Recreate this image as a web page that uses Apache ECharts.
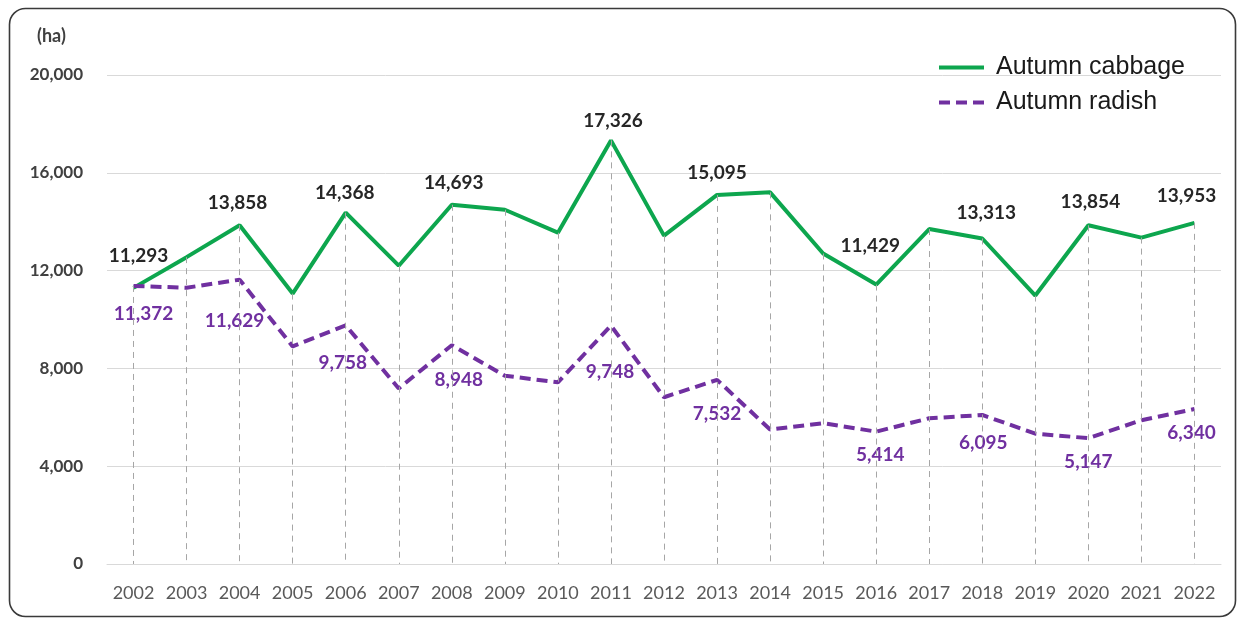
<!DOCTYPE html>
<html>
<head>
<meta charset="utf-8">
<style>
  html, body { margin: 0; padding: 0; background: #ffffff; }
  #chart { width: 1240px; height: 618px; }
</style>
<script src="https://cdn.jsdelivr.net/npm/echarts@6/dist/echarts.min.js"></script>
</head>
<body>
<div id="chart"></div>
<script>
// ---- Data ----
const years = ['2002','2003','2004','2005','2006','2007','2008','2009','2010','2011','2012',
               '2013','2014','2015','2016','2017','2018','2019','2020','2021','2022'];
const cabbage = [11293, 12550, 13858, 11060, 14368, 12200, 14693, 14490, 13550, 17326, 13430,
                 15095, 15200, 12700, 11429, 13700, 13313, 10980, 13854, 13350, 13953];
const radish  = [11372, 11300, 11629, 8900, 9758, 7180, 8948, 7700, 7430, 9748, 6820,
                 7532, 5500, 5760, 5414, 5960, 6095, 5330, 5147, 5880, 6340];
const labeledYears = ['2002','2004','2006','2008','2011','2013','2016','2018','2020','2022'];
const seriesNames = ['Autumn cabbage', 'Autumn radish'];
const yMin = 0, yMax = 20000, yStep = 4000;
const unitLabel = '(ha)';

// ---- Label placement (styling, kept apart from data) ----
const cabbageOffsets = {
  '2002': [5, -32], '2004': [-2, -22], '2006': [-1, -20], '2008': [2, -22], '2011': [2, -20],
  '2013': [0, -22], '2016': [-6, -39], '2018': [4, -26], '2020': [2, -23], '2022': [-8, -27]
};
const radishOffsets = {
  '2002': [10, 28], '2004': [-5, 41], '2006': [-3, 37], '2008': [7, 35], '2011': [-1, 46],
  '2013': [0, 34], '2016': [4, 23], '2018': [1, 28], '2020': [0, 24], '2022': [-3, 24]
};

const fmt = v => Number(v).toLocaleString('en-US');
const GREEN = '#0DA64E';
const PURPLE = '#7030A0';
const FONT = 'Lato, "Open Sans", sans-serif';

function buildData(values, offsets, color) {
  return values.map((v, i) => {
    const y = years[i];
    if (labeledYears.indexOf(y) >= 0) {
      return {
        value: v,
        label: {
          show: true, position: 'inside', offset: offsets[y],
          formatter: p => fmt(p.value),
          color: color, fontFamily: FONT, fontWeight: 'bold', fontSize: 19
        }
      };
    }
    return v;
  });
}

const dropLines = years.map((y, i) => [
  { coord: [y, Math.max(cabbage[i], radish[i])] },
  { coord: [y, 0] }
]);

const chart = echarts.init(document.getElementById('chart'));
chart.setOption({
  animation: false,
  backgroundColor: '#ffffff',
  grid: { left: 107, right: 19, top: 75, bottom: 54 },
  legend: {
    orient: 'vertical',
    left: 934, top: 50,
    itemWidth: 45, itemHeight: 4, itemGap: 10,
    textStyle: { fontFamily: '"Liberation Sans", Arial, sans-serif', fontSize: 25, color: '#1a1a1a', padding: [0, 0, 0, 7] },
    data: [
      { name: seriesNames[0], icon: 'rect' },
      { name: seriesNames[1], icon: 'path://M0,0h11v4h-11zM17,0h11v4h-11zM34,0h11v4h-11z' }
    ]
  },
  xAxis: {
    type: 'category',
    data: years,
    boundaryGap: true,
    axisTick: { show: false },
    axisLine: { show: true, lineStyle: { color: '#d9d9d9', width: 1 } },
    axisLabel: { margin: 20, fontFamily: FONT, fontSize: 18, color: '#595959', interval: 0 },
    splitLine: { show: false }
  },
  yAxis: {
    type: 'value',
    min: yMin, max: yMax, interval: yStep,
    axisLine: { show: false },
    axisTick: { show: false },
    axisLabel: { margin: 24, fontFamily: FONT, fontSize: 17, fontWeight: 'bold', color: '#404040',
                 formatter: v => fmt(v) },
    splitLine: { show: true, lineStyle: { color: '#d9d9d9', width: 1 } }
  },
  graphic: [
    { type: 'rect', left: 7, top: 6, z: 100, silent: true,
      shape: { width: 1226, height: 608, r: 16 },
      style: { fill: 'none', stroke: '#3a3a3a', lineWidth: 1.6 } },
    { type: 'text', left: 37, top: 27, silent: true,
      style: { text: unitLabel, font: 'bold 18px ' + FONT, fill: '#404040' } }
  ],
  series: [
    {
      name: '_drop', type: 'line', data: [], z: 1, silent: true,
      markLine: {
        silent: true, symbol: ['none', 'none'], animation: false,
        label: { show: false },
        lineStyle: { color: '#a6a6a6', width: 1, type: [6, 5] },
        emphasis: { disabled: true },
        data: dropLines
      }
    },
    {
      name: seriesNames[0], type: 'line', z: 3,
      data: buildData(cabbage, cabbageOffsets, '#262626'),
      symbol: 'circle', symbolSize: 0, showSymbol: true,
      itemStyle: { color: GREEN },
      lineStyle: { color: GREEN, width: 4 },
      emphasis: { disabled: true }
    },
    {
      name: seriesNames[1], type: 'line', z: 4,
      data: buildData(radish, radishOffsets, PURPLE),
      symbol: 'circle', symbolSize: 0, showSymbol: true,
      itemStyle: { color: PURPLE },
      lineStyle: { color: PURPLE, width: 4, type: [11, 6] },
      emphasis: { disabled: true }
    }
  ]
});
</script>
</body>
</html>
